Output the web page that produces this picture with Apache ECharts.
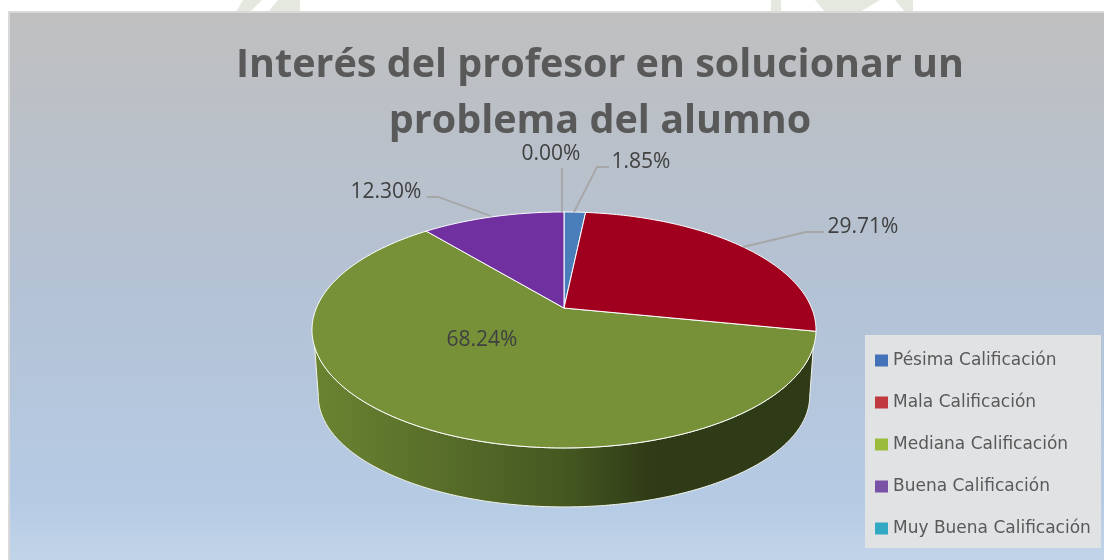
<!DOCTYPE html>
<html><head><meta charset="utf-8">
<style>html,body{margin:0;padding:0;background:#fff}#c{width:1104px;height:560px}</style>
<script src="https://cdn.jsdelivr.net/npm/echarts@6/dist/echarts.min.js"></script>
</head><body><div id="c"></div>
<script>
const titleLines = ['Interés del profesor en solucionar un', 'problema del alumno'];
const categories = ['Pésima Calificación','Mala Calificación','Mediana Calificación','Buena Calificación','Muy Buena Calificación'];
const values = [1.85, 29.71, 68.24, 12.30, 0.00];
const sliceColors = ['#4a7ebb','#a0001e','#769138','#7030a0','#31a3bd'];
const legendColors = ['#4472b8','#c0393f','#9bbb3c','#7a52a5','#31a9c2'];

// projection of the pie disc
const apex = {x:564, y:308}, rx = 247.6, ry = 113.9, persp = 0.186, depth = {sx:0.975, sy:0.94, dy:67.4};
const total = values.reduce((a,b)=>a+b,0);
function proj(theta, bottom){
  const u = Math.sin(theta), v = -Math.cos(theta), d = 1 - persp*v;
  const X = rx*u/d, Y = ry*v/d;
  return bottom ? [apex.x + X*depth.sx, apex.y + depth.dy + Y*depth.sy] : [apex.x + X, apex.y + Y];
}
// label layout: text position, leader line (label side first; the last point is on the slice)
const labelLayout = [
  {pos:[641,162], line:[[609,167],[597,167],[574,212]]},
  {pos:[863,227], line:[[824,232],[806,232],[743,247]]},
  {pos:[482,340], line:null},
  {pos:[386,192], line:[[427,197],[438,197],[491,216]]},
  {pos:[551,154], line:[[562,168],[562,212]]}
];
const sideGradient = () => new echarts.graphic.LinearGradient(0,0,1,0,[
  {offset:0,color:'#6a8431'},{offset:0.25,color:'#586e2a'},{offset:0.5,color:'#455821'},
  {offset:0.68,color:'#2f3a16'},{offset:1,color:'#2f3a16'}]);

const tangent = Math.acos(-persp);          // where the disc's outline turns from back to front
const wallInset = 8.1*Math.PI/180;          // the top rim of the wall starts a little later
function makeSeries(i){
  const a0 = values.slice(0,i).reduce((a,b)=>a+b,0)/total*2*Math.PI;
  const a1 = a0 + values[i]/total*2*Math.PI;
  return {
    type:'custom', name:categories[i], coordinateSystem:'none', silent:true,
    data:[[values[i]]], z:i===2?1:2, clip:false,
    itemStyle:{color:sliceColors[i]},
    renderItem(){
      const children = [];
      const steps = Math.max(2, Math.ceil((a1-a0)*60));
      if (values[i] > 0){
        // visible side wall
        const t0 = Math.max(a0, tangent + wallInset), t1 = Math.min(a1, 2*Math.PI - tangent - wallInset);
        const b0 = Math.max(a0, tangent), b1 = Math.min(a1, 2*Math.PI - tangent);
        if (t1 > t0){
          const top = [], bot = [];
          for (let k=0;k<=steps;k++){
            top.push(proj(t0 + (t1-t0)*k/steps,false));
            bot.unshift(proj(b0 + (b1-b0)*k/steps,true));
          }
          children.push({type:'polygon', shape:{points:top.concat(bot)},
            style:{fill:sideGradient(), stroke:'#f4f4ea', lineWidth:1}});
        }
        // top face
        const pts = [[apex.x,apex.y]];
        for (let k=0;k<=steps;k++) pts.push(proj(a0+(a1-a0)*k/steps,false));
        children.push({type:'polygon', shape:{points:pts},
          style:{fill:sliceColors[i], stroke:'#ffffff', lineWidth:1}});
      }
      const L = labelLayout[i];
      if (L.line) children.push({type:'polyline', shape:{points:L.line},
        style:{fill:null, stroke:'#a6a6a6', lineWidth:1.8}, z2:5});
      children.push({type:'text', z2:6, style:{text:values[i].toFixed(2)+'%', x:L.pos[0], y:L.pos[1],
        align:'center', verticalAlign:'middle', fill:'#404040', font:'21px "Open Sans"'}});
      return {type:'group', children};
    }
  };
}

const chart = echarts.init(document.getElementById('c'), null, {renderer:'canvas'});
const wm = '#e4e8df';
chart.setOption({
  animation:false,
  backgroundColor:'#ffffff',
  graphic:[
    {type:'polygon', z:-12, shape:{points:[[236,12],[243,0],[262,0],[250,12]]}, style:{fill:wm}},
    {type:'polygon', z:-12, shape:{points:[[268,12],[278,0],[300,0],[300,12]]}, style:{fill:wm}},
    {type:'rect', z:-12, shape:{x:771,y:0,width:10,height:12}, style:{fill:wm}},
    {type:'polygon', z:-12, shape:{points:[[815,0],[880,0],[860,12],[825,12]]}, style:{fill:wm}},
    {type:'polygon', z:-12, shape:{points:[[895,0],[913,0],[913,12],[905,12]]}, style:{fill:wm}},
    {type:'rect', z:-10, shape:{x:9,y:12,width:1110,height:560},
     style:{fill:new echarts.graphic.LinearGradient(0,0,0,1,[
       {offset:0,color:'#bfbfbf'},{offset:0.5,color:'#b4c2d5'},{offset:0.87,color:'#b5cbe4'},{offset:1,color:'#c4d6ea'}]),
       stroke:'#d9d9d9', lineWidth:2}},
    {type:'rect', z:-9, shape:{x:865,y:335,width:236,height:213}, style:{fill:'#e1e2e4'}}
  ],
  title:{
    text:titleLines.join('\n'), left:595, top:33, textAlign:'center',
    textStyle:{fontFamily:'"Open Sans"', fontWeight:'bold', fontSize:39.5, lineHeight:56, color:'#595959'}
  },
  legend:{
    orient:'vertical', left:870, top:347, itemGap:25, itemWidth:13, itemHeight:12, icon:'rect',
    selectedMode:false,
    data:categories.map((n,i)=>({name:n, itemStyle:{color:legendColors[i]}})),
    textStyle:{fontFamily:'"DejaVu Sans"', fontSize:17, color:'#595959'}
  },
  series:categories.map((_,i)=>makeSeries(i))
});
</script></body></html>
